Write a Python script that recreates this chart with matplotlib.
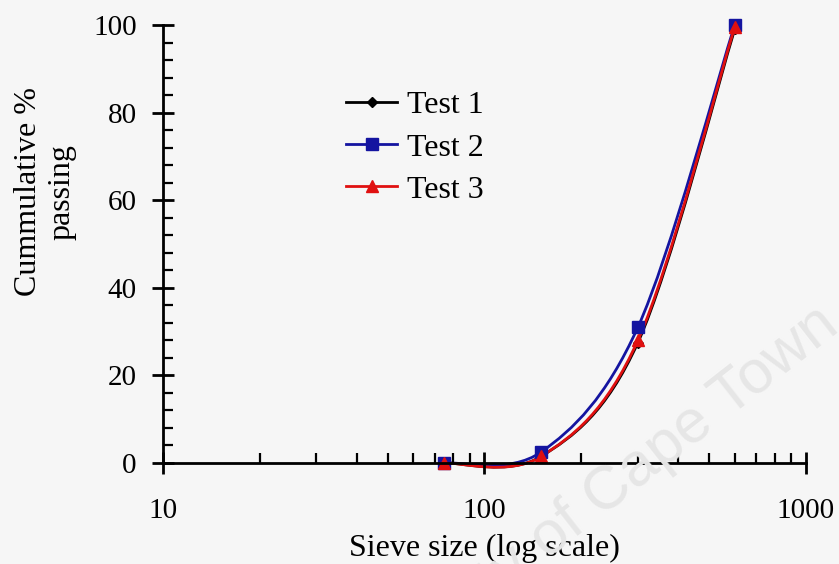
import numpy as np
import matplotlib
matplotlib.use("Agg")
import matplotlib.pyplot as plt
from matplotlib.path import Path
from matplotlib.patches import PathPatch
from matplotlib.lines import Line2D
from matplotlib.ticker import LogLocator, MultipleLocator, FixedLocator, NullFormatter

plt.rcParams['font.family'] = 'Liberation Serif'

sieve = [75, 150, 300, 600]
test1 = [0, 1.5, 27.5, 99]
test2 = [0, 2.5, 31, 100]
test3 = [0, 1.5, 28, 99.5]
labels = ["Test 1", "Test 2", "Test 3"]
colors = ["black", "#1414a0", "#e01010"]
markers = ["D", "s", "^"]
msizes = [5, 8, 8]


def smooth_path(xs, ys):
    # excel-like smoothed line, bezier segments built in log-x space
    u = np.log10(xs)
    p = np.column_stack([u, ys]).astype(float)
    n = len(p)
    t = []
    for i in range(n):
        a = p[max(i - 1, 0)]
        b = p[min(i + 1, n - 1)]
        t.append(b - a)
    verts = [p[0]]
    codes = [Path.MOVETO]
    for i in range(n - 1):
        c1 = p[i] + t[i] / 6
        c2 = p[i + 1] - t[i + 1] / 6
        verts += [c1, c2, p[i + 1]]
        codes += [Path.CURVE4] * 3
    verts = np.array(verts)
    verts[:, 0] = 10 ** verts[:, 0]
    return Path(verts, codes)


fig = plt.figure(figsize=(8.39, 5.64), dpi=100)
fig.patch.set_facecolor('#f6f6f6')

# faint watermark behind everything
fig.text(832 / 839, 1 - 318 / 564, "University of Cape Town", fontsize=44,
         family='Liberation Sans', color='#e6e6e6', rotation=38,
         rotation_mode='anchor', ha='right', va='center', zorder=0)

ax = fig.add_axes([163 / 839, 101 / 564, 643 / 839, 438 / 564])
ax.set_facecolor('none')

for ys, c, m, ms in zip([test1, test2, test3], colors, markers, msizes):
    patch = PathPatch(smooth_path(sieve, ys), facecolor='none', edgecolor=c,
                      lw=2, transform=ax.transData, clip_on=False)
    ax.add_patch(patch)
    ax.plot(sieve, ys, linestyle='none', marker=m, color=c, ms=ms, clip_on=False)

ax.set_xscale('log')
ax.set_xlim(10, 1000)
ax.set_ylim(0, 100)
ax.xaxis.set_major_locator(FixedLocator([10, 100, 1000]))
ax.xaxis.set_minor_locator(LogLocator(base=10, subs=np.arange(2, 10)))
ax.xaxis.set_minor_formatter(NullFormatter())
ax.set_xticklabels(["10", "100", "1000"])
ax.yaxis.set_major_locator(MultipleLocator(20))
ax.yaxis.set_minor_locator(MultipleLocator(4))

for s in ['top', 'right']:
    ax.spines[s].set_visible(False)
for s in ['left', 'bottom']:
    ax.spines[s].set_linewidth(2)

ax.tick_params(which='major', direction='inout', length=16, width=2, labelsize=21)
ax.tick_params(which='minor', direction='in', length=7, width=1.6)
ax.tick_params(axis='x', which='major', pad=17)
ax.tick_params(axis='y', which='major', pad=11)

ax.set_xlabel("Sieve size (log scale)", fontsize=23, labelpad=7)
fig.text(45 / 839, 1 - 192 / 564, "Cummulative %\npassing", rotation=90,
         ha='center', va='center', multialignment='center', fontsize=23,
         linespacing=1.2)

handles = [Line2D([], [], color=c, marker=m, ms=ms, lw=2)
           for c, m, ms in zip(colors, markers, msizes)]
fig.legend(handles, labels, loc='upper left', bbox_to_anchor=(346 / 839, 1 - 91 / 564),
           bbox_transform=fig.transFigure, frameon=False, fontsize=23,
           handlelength=1.6, handletextpad=0.3, labelspacing=0.4,
           borderpad=0, borderaxespad=0)

fig.savefig("out.png", dpi=100, facecolor=fig.get_facecolor())
